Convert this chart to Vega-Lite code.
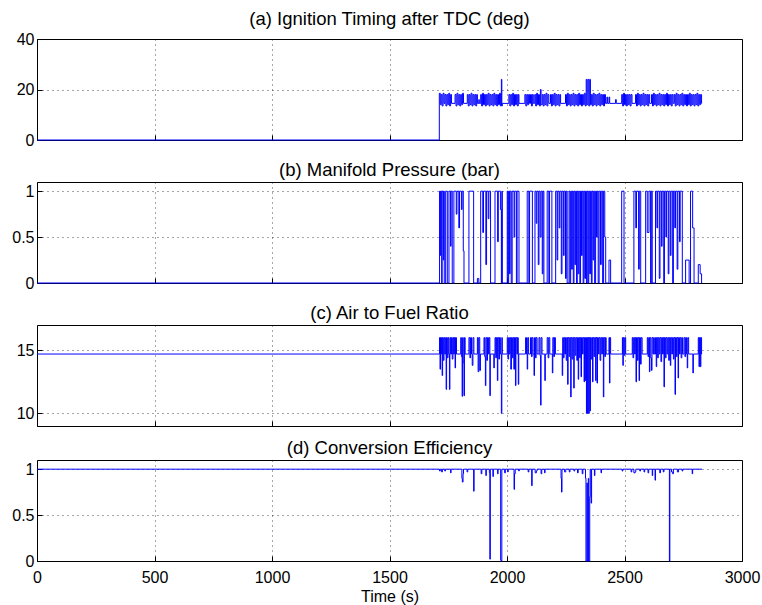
{
  "$schema": "https://vega.github.io/schema/vega-lite/v6.json",
  "padding": {"left": 11, "top": 9, "right": 8, "bottom": 4},
  "spacing": 11,
  "config": {
    "font": "Arial, Liberation Sans, Helvetica, sans-serif",
    "view": {"stroke": "#000", "strokeWidth": 1},
    "title": {"fontSize": 18.5, "fontWeight": "normal", "color": "#000", "font": "Arial, Liberation Sans, Helvetica, sans-serif", "offset": 3},
    "axis": {"domain": false, "grid": true, "gridDash": [1, 4], "gridColor": "#000", "gridOpacity": 0.7, "labelFontSize": 16, "labelColor": "#000", "labelFont": "Arial, Liberation Sans, Helvetica, sans-serif", "tickColor": "#000", "tickSize": -5, "titleFontSize": 16, "titleFontWeight": "normal", "titleColor": "#000", "titleFont": "Arial, Liberation Sans, Helvetica, sans-serif", "labelFlush": false, "labelOverlap": false},
    "axisX": {"labelPadding": 13},
    "axisY": {"labelPadding": 8, "minExtent": 17, "maxExtent": 17}
  },
  "datasets": {
    "ign": [
      {"t":0,"v":0},{"t":1712,"v":18.5},{"t":1716,"v":14},{"t":1720,"v":18},{"t":1724,"v":13.5},{"t":1728,"v":18.5},{"t":1732,"v":14.5},{"t":1736,"v":18},{"t":1740,"v":13.5},{"t":1744,"v":18},{"t":1748,"v":14},{"t":1752,"v":18.5},{"t":1756,"v":13.5},{"t":1760,"v":18},{"t":1764,"v":14.5},
      {"t":1779,"v":18},{"t":1783,"v":13.5},{"t":1787,"v":18.5},{"t":1791,"v":14},{"t":1795,"v":18},{"t":1799,"v":13.5},{"t":1803,"v":18},{"t":1807,"v":14},{"t":1811,"v":18.5},{"t":1815,"v":14.5},
      {"t":1831,"v":18},{"t":1835,"v":13.5},{"t":1839,"v":18},{"t":1843,"v":14},{"t":1847,"v":18.5},{"t":1851,"v":13.5},{"t":1855,"v":18},{"t":1859,"v":14},{"t":1863,"v":18},{"t":1867,"v":13.5},{"t":1871,"v":18},{"t":1874,"v":14.5},{"t":1880,"v":16},{"t":1882,"v":14.5},
      {"t":1888,"v":18},{"t":1892,"v":13.5},{"t":1896,"v":18.5},{"t":1900,"v":14},{"t":1904,"v":18},{"t":1908,"v":13.5},{"t":1912,"v":18},{"t":1916,"v":14},{"t":1920,"v":18.5},{"t":1924,"v":13.5},{"t":1928,"v":18},{"t":1932,"v":14},{"t":1936,"v":18},{"t":1940,"v":13.5},{"t":1944,"v":18.5},{"t":1948,"v":14},{"t":1952,"v":18},{"t":1956,"v":13.5},{"t":1960,"v":18},{"t":1964,"v":14},{"t":1968,"v":18.5},{"t":1972,"v":13.5},{"t":1976,"v":24},{"t":1978,"v":13.5},{"t":1980,"v":14.5},
      {"t":2008,"v":18},{"t":2012,"v":13.5},{"t":2016,"v":18},{"t":2020,"v":14},{"t":2024,"v":18.5},{"t":2028,"v":13.5},{"t":2032,"v":18},{"t":2036,"v":14},{"t":2040,"v":18},{"t":2044,"v":13.5},{"t":2048,"v":18},{"t":2051,"v":14.5},
      {"t":2076,"v":18},{"t":2080,"v":13.5},{"t":2084,"v":18},{"t":2088,"v":14},{"t":2092,"v":18},{"t":2096,"v":14.5},{"t":2100,"v":18},{"t":2104,"v":13.5},{"t":2108,"v":18},{"t":2112,"v":14.5},
      {"t":2118,"v":18},{"t":2122,"v":13.5},{"t":2126,"v":18.5},{"t":2130,"v":14},{"t":2134,"v":18},{"t":2138,"v":13.5},{"t":2142,"v":20},{"t":2145,"v":14},{"t":2150,"v":18},{"t":2154,"v":13.5},{"t":2158,"v":18},{"t":2162,"v":14},{"t":2166,"v":18.5},{"t":2170,"v":13.5},{"t":2174,"v":18},{"t":2178,"v":14.5},
      {"t":2185,"v":18},{"t":2189,"v":13.5},{"t":2193,"v":18},{"t":2197,"v":14},{"t":2201,"v":18.5},{"t":2205,"v":13.5},{"t":2209,"v":18},{"t":2213,"v":14},{"t":2217,"v":18},{"t":2221,"v":13.5},{"t":2225,"v":18},{"t":2228,"v":14.5},
      {"t":2249,"v":18},{"t":2253,"v":13.5},{"t":2257,"v":18.5},{"t":2261,"v":14},{"t":2265,"v":18},{"t":2269,"v":13.5},{"t":2273,"v":18},{"t":2277,"v":14},{"t":2281,"v":18.5},{"t":2285,"v":13.5},{"t":2289,"v":18},{"t":2293,"v":14},{"t":2297,"v":18},{"t":2301,"v":13.5},{"t":2305,"v":18.5},{"t":2309,"v":14},{"t":2313,"v":18},{"t":2317,"v":13.5},{"t":2321,"v":18},{"t":2325,"v":14},{"t":2329,"v":18.5},{"t":2333,"v":13.5},{"t":2337,"v":24},{"t":2340,"v":14},{"t":2344,"v":24},{"t":2348,"v":13.5},{"t":2352,"v":24},{"t":2355,"v":14},{"t":2359,"v":18},{"t":2363,"v":13.5},{"t":2367,"v":18.5},{"t":2371,"v":14},{"t":2375,"v":18},{"t":2379,"v":13.5},{"t":2383,"v":18},{"t":2387,"v":14},{"t":2391,"v":18.5},{"t":2395,"v":13.5},{"t":2399,"v":18},{"t":2403,"v":14},{"t":2407,"v":18},{"t":2411,"v":13.5},{"t":2415,"v":18},{"t":2419,"v":14.5},
      {"t":2425,"v":17},{"t":2428,"v":14.5},{"t":2434,"v":17},{"t":2437,"v":14.5},{"t":2462,"v":16},{"t":2465,"v":14.5},
      {"t":2488,"v":18},{"t":2492,"v":13.5},{"t":2496,"v":18.5},{"t":2500,"v":14},{"t":2504,"v":18},{"t":2508,"v":13.5},{"t":2512,"v":18},{"t":2516,"v":14},{"t":2520,"v":18},{"t":2524,"v":13.5},{"t":2528,"v":18},{"t":2532,"v":14.5},
      {"t":2547,"v":18},{"t":2551,"v":13.5},{"t":2555,"v":18.5},{"t":2559,"v":14},{"t":2563,"v":18},{"t":2567,"v":13.5},{"t":2571,"v":18},{"t":2575,"v":14},{"t":2579,"v":18.5},{"t":2583,"v":13.5},{"t":2587,"v":18},{"t":2591,"v":14},{"t":2595,"v":18},{"t":2599,"v":13.5},{"t":2603,"v":18},{"t":2607,"v":14.5},
      {"t":2615,"v":18},{"t":2619,"v":13.5},{"t":2623,"v":18.5},{"t":2627,"v":14},{"t":2631,"v":18},{"t":2635,"v":13.5},{"t":2639,"v":18},{"t":2643,"v":14},{"t":2647,"v":18.5},{"t":2651,"v":13.5},{"t":2655,"v":18},{"t":2659,"v":14},{"t":2663,"v":18},{"t":2667,"v":13.5},{"t":2671,"v":18},{"t":2675,"v":14},{"t":2679,"v":18.5},{"t":2683,"v":13.5},{"t":2687,"v":18},{"t":2691,"v":14},{"t":2695,"v":18},{"t":2699,"v":13.5},{"t":2703,"v":18},{"t":2707,"v":14.5},
      {"t":2712,"v":18},{"t":2716,"v":13.5},{"t":2720,"v":18.5},{"t":2724,"v":14},{"t":2728,"v":18},{"t":2732,"v":13.5},{"t":2736,"v":18},{"t":2740,"v":14},{"t":2744,"v":18.5},{"t":2748,"v":13.5},{"t":2752,"v":18},{"t":2756,"v":14},{"t":2760,"v":18},{"t":2764,"v":13.5},{"t":2768,"v":18},{"t":2772,"v":14},{"t":2776,"v":18.5},{"t":2780,"v":13.5},{"t":2784,"v":18},{"t":2788,"v":14},{"t":2792,"v":18},{"t":2796,"v":13.5},{"t":2800,"v":18},{"t":2804,"v":14},{"t":2808,"v":18.5},{"t":2812,"v":13.5},{"t":2816,"v":18},{"t":2820,"v":14},{"t":2824,"v":18},{"t":2828,"v":14.5},{"t":2830,"v":14.5}
    ],
    "map": [
      {"t":0,"v":0},{"t":1713,"v":1},{"t":1716,"v":0.3},{"t":1718,"v":1},{"t":1722,"v":0},{"t":1724,"v":1},{"t":1729,"v":0.25},{"t":1731,"v":1},{"t":1733,"v":0},{"t":1739,"v":1},{"t":1746,"v":0},{"t":1753,"v":1},{"t":1760,"v":0.4},{"t":1762,"v":1},{"t":1767,"v":0},
      {"t":1774,"v":1},{"t":1784,"v":0.75},{"t":1787,"v":1},{"t":1795,"v":0.6},{"t":1798,"v":1},{"t":1806,"v":0.8},{"t":1809,"v":1},{"t":1814,"v":0.35},{"t":1817,"v":0},
      {"t":1838,"v":1},{"t":1858,"v":0},{"t":1874,"v":0.05},{"t":1880,"v":0},
      {"t":1888,"v":1},{"t":1897,"v":0.55},{"t":1900,"v":1},{"t":1910,"v":0.2},{"t":1913,"v":1},{"t":1920,"v":0.7},{"t":1923,"v":1},{"t":1930,"v":0},
      {"t":1949,"v":1},{"t":1960,"v":0.45},{"t":1963,"v":1},{"t":1972,"v":0.8},{"t":1976,"v":0},{"t":1978,"v":1},{"t":1980,"v":0},
      {"t":2001,"v":1},{"t":2004,"v":0},{"t":2007,"v":1},{"t":2011,"v":0.1},{"t":2013,"v":1},{"t":2018,"v":0},{"t":2022,"v":1},{"t":2030,"v":0.5},{"t":2033,"v":1},{"t":2040,"v":0},{"t":2043,"v":1},{"t":2051,"v":0},
      {"t":2086,"v":1},{"t":2093,"v":0},{"t":2096,"v":1},{"t":2108,"v":0},
      {"t":2119,"v":1},{"t":2124,"v":0.65},{"t":2127,"v":1},{"t":2133,"v":0.2},{"t":2136,"v":1},{"t":2141,"v":0.5},{"t":2145,"v":1},{"t":2150,"v":0.1},{"t":2153,"v":1},{"t":2157,"v":0},
      {"t":2171,"v":1},{"t":2178,"v":0},{"t":2181,"v":1},{"t":2191,"v":0},
      {"t":2207,"v":1},{"t":2213,"v":0.25},{"t":2216,"v":1},{"t":2222,"v":0.6},{"t":2225,"v":1},{"t":2231,"v":0.1},{"t":2234,"v":1},{"t":2240,"v":0.3},{"t":2243,"v":1},{"t":2249,"v":0.05},{"t":2252,"v":1},{"t":2256,"v":0},
      {"t":2264,"v":1},{"t":2268,"v":0},{"t":2271,"v":1},{"t":2275,"v":0.15},{"t":2278,"v":1},{"t":2282,"v":0},{"t":2285,"v":1},{"t":2289,"v":0.2},{"t":2292,"v":1},{"t":2296,"v":0},{"t":2299,"v":1},{"t":2303,"v":0.1},{"t":2306,"v":1},{"t":2310,"v":0},{"t":2313,"v":1},{"t":2317,"v":0.3},{"t":2320,"v":1},{"t":2324,"v":0},{"t":2327,"v":1},{"t":2331,"v":0.05},{"t":2334,"v":1},{"t":2338,"v":0},{"t":2341,"v":1},{"t":2345,"v":0},{"t":2348,"v":1},{"t":2352,"v":0.1},{"t":2355,"v":1},{"t":2359,"v":0},{"t":2362,"v":1},{"t":2366,"v":0.25},{"t":2369,"v":1},{"t":2373,"v":0},{"t":2377,"v":1},{"t":2381,"v":0.5},{"t":2384,"v":1},{"t":2388,"v":0},{"t":2392,"v":1},{"t":2398,"v":0.2},{"t":2401,"v":1},{"t":2407,"v":0},{"t":2411,"v":1},{"t":2416,"v":0.5},{"t":2420,"v":0},
      {"t":2434,"v":0.25},{"t":2441,"v":0},{"t":2488,"v":1},{"t":2498,"v":0},
      {"t":2540,"v":1},{"t":2548,"v":0.6},{"t":2551,"v":1},{"t":2560,"v":0.15},{"t":2563,"v":1},{"t":2569,"v":0},
      {"t":2590,"v":1},{"t":2597,"v":0.55},{"t":2604,"v":1},{"t":2611,"v":0},{"t":2614,"v":1},{"t":2618,"v":0},
      {"t":2632,"v":1},{"t":2638,"v":0.6},{"t":2641,"v":1},{"t":2648,"v":0.05},{"t":2651,"v":1},{"t":2657,"v":0.4},{"t":2660,"v":1},{"t":2667,"v":0},{"t":2670,"v":1},{"t":2676,"v":0.5},{"t":2679,"v":1},{"t":2686,"v":0.1},{"t":2689,"v":1},{"t":2695,"v":0.3},{"t":2698,"v":1},{"t":2705,"v":0},{"t":2708,"v":1},{"t":2714,"v":0.6},{"t":2717,"v":1},{"t":2724,"v":0.15},{"t":2727,"v":1},{"t":2734,"v":0.45},{"t":2737,"v":1},{"t":2746,"v":0},
      {"t":2760,"v":0.25},{"t":2775,"v":0},{"t":2781,"v":1},{"t":2790,"v":0.6},{"t":2796,"v":0},{"t":2814,"v":0.2},{"t":2822,"v":0.1},{"t":2828,"v":0},{"t":2830,"v":0}
    ],
    "afr": [
      {"t":0,"v":14.7},{"t":1713,"v":16},{"t":1715,"v":13.5},{"t":1717,"v":16},{"t":1720,"v":14.7},{"t":1722,"v":16},{"t":1724,"v":13},{"t":1726,"v":16},{"t":1729,"v":14.2},{"t":1732,"v":16},{"t":1735,"v":14.7},{"t":1739,"v":16},{"t":1741,"v":11.9},{"t":1743,"v":16},{"t":1746,"v":14.4},{"t":1749,"v":16},{"t":1752,"v":14.7},{"t":1755,"v":11.9},{"t":1757,"v":16},{"t":1760,"v":14.7},
      {"t":1764,"v":16},{"t":1767,"v":14.3},{"t":1770,"v":16},{"t":1773,"v":14.7},{"t":1776,"v":16},{"t":1779,"v":13.6},{"t":1781,"v":16},{"t":1785,"v":14.7},
      {"t":1803,"v":16},{"t":1806,"v":14.5},{"t":1809,"v":11.35},{"t":1811,"v":16},{"t":1814,"v":14},{"t":1817,"v":11.4},{"t":1819,"v":16},{"t":1822,"v":14.7},
      {"t":1838,"v":16},{"t":1842,"v":14.4},{"t":1845,"v":16},{"t":1849,"v":14.7},{"t":1852,"v":13.8},{"t":1855,"v":16},{"t":1859,"v":14.7},
      {"t":1874,"v":16},{"t":1877,"v":13.3},{"t":1880,"v":16},{"t":1884,"v":13.4},{"t":1887,"v":14.7},
      {"t":1902,"v":16},{"t":1905,"v":14.5},{"t":1908,"v":12.2},{"t":1910,"v":16},{"t":1914,"v":14.2},{"t":1917,"v":16},{"t":1921,"v":14.7},{"t":1924,"v":16},{"t":1927,"v":11.4},{"t":1929,"v":14.7},
      {"t":1944,"v":13.6},{"t":1946,"v":14.7},{"t":1949,"v":16},{"t":1952,"v":14.4},{"t":1955,"v":16},{"t":1959,"v":12.6},{"t":1961,"v":16},{"t":1965,"v":14.3},{"t":1968,"v":16},{"t":1972,"v":14.7},{"t":1976,"v":10},{"t":1978,"v":16},{"t":1980,"v":14.7},
      {"t":2001,"v":16},{"t":2004,"v":14.3},{"t":2007,"v":16},{"t":2010,"v":14.7},{"t":2013,"v":16},{"t":2016,"v":13.5},{"t":2019,"v":16},{"t":2023,"v":14.4},{"t":2026,"v":16},{"t":2029,"v":13.5},{"t":2032,"v":16},{"t":2036,"v":12.2},{"t":2038,"v":16},{"t":2042,"v":14.7},{"t":2045,"v":16},{"t":2048,"v":12.3},{"t":2050,"v":14.7},
      {"t":2079,"v":16},{"t":2083,"v":14.7},{"t":2086,"v":13.5},{"t":2088,"v":16},{"t":2092,"v":14.7},
      {"t":2100,"v":16},{"t":2104,"v":14.5},{"t":2107,"v":16},{"t":2111,"v":14.7},{"t":2115,"v":13},{"t":2117,"v":16},{"t":2121,"v":14.4},{"t":2124,"v":16},{"t":2128,"v":14.7},
      {"t":2136,"v":16},{"t":2140,"v":14.6},{"t":2143,"v":10.65},{"t":2145,"v":16},{"t":2149,"v":14.7},{"t":2161,"v":12.6},{"t":2163,"v":14.7},
      {"t":2171,"v":16},{"t":2175,"v":14.4},{"t":2178,"v":16},{"t":2182,"v":14.7},
      {"t":2193,"v":13.2},{"t":2195,"v":16},{"t":2199,"v":14.5},{"t":2202,"v":16},{"t":2206,"v":14.7},
      {"t":2235,"v":13},{"t":2237,"v":16},{"t":2240,"v":14.4},{"t":2243,"v":16},{"t":2246,"v":14.7},{"t":2249,"v":16},{"t":2252,"v":14.2},{"t":2255,"v":16},{"t":2258,"v":12.3},{"t":2260,"v":16},{"t":2264,"v":14.5},{"t":2267,"v":16},{"t":2271,"v":11.3},{"t":2273,"v":16},{"t":2277,"v":14.3},{"t":2280,"v":16},{"t":2284,"v":12},{"t":2286,"v":16},{"t":2290,"v":14.6},{"t":2293,"v":16},{"t":2297,"v":14.2},{"t":2300,"v":16},{"t":2303,"v":12.7},{"t":2305,"v":16},{"t":2309,"v":14.4},{"t":2312,"v":16},{"t":2315,"v":12.9},{"t":2317,"v":16},{"t":2321,"v":14.7},{"t":2324,"v":16},{"t":2328,"v":12.5},{"t":2330,"v":16},{"t":2333,"v":12.6},{"t":2335,"v":16},{"t":2338,"v":10},{"t":2340,"v":16},{"t":2343,"v":10},{"t":2345,"v":16},{"t":2348,"v":10},{"t":2350,"v":16},{"t":2353,"v":10.2},{"t":2355,"v":16},{"t":2358,"v":14.3},{"t":2361,"v":16},{"t":2364,"v":12.5},{"t":2366,"v":16},{"t":2370,"v":14.5},{"t":2373,"v":16},{"t":2377,"v":12.6},{"t":2379,"v":16},{"t":2383,"v":12.4},{"t":2385,"v":16},{"t":2389,"v":14.7},{"t":2392,"v":16},{"t":2396,"v":14.2},{"t":2399,"v":16},{"t":2403,"v":14.7},{"t":2406,"v":16},{"t":2410,"v":11.3},{"t":2412,"v":16},{"t":2416,"v":14.5},{"t":2419,"v":16},{"t":2422,"v":14.7},
      {"t":2434,"v":16},{"t":2436,"v":12.4},{"t":2438,"v":16},{"t":2441,"v":14.7},
      {"t":2491,"v":16},{"t":2493,"v":13.8},{"t":2495,"v":16},{"t":2499,"v":14.6},{"t":2502,"v":16},{"t":2505,"v":14.7},
      {"t":2533,"v":16},{"t":2536,"v":14.4},{"t":2539,"v":16},{"t":2543,"v":14.7},{"t":2546,"v":16},{"t":2549,"v":12.5},{"t":2551,"v":16},{"t":2555,"v":14.2},{"t":2558,"v":16},{"t":2562,"v":12.6},{"t":2564,"v":16},{"t":2568,"v":13.9},{"t":2571,"v":16},{"t":2575,"v":14.7},
      {"t":2597,"v":16},{"t":2600,"v":14.5},{"t":2603,"v":16},{"t":2606,"v":13.3},{"t":2608,"v":16},{"t":2612,"v":14.4},{"t":2615,"v":13.4},{"t":2617,"v":16},{"t":2621,"v":14.7},{"t":2624,"v":16},{"t":2627,"v":14.7},
      {"t":2632,"v":16},{"t":2635,"v":13.7},{"t":2637,"v":16},{"t":2641,"v":14.4},{"t":2644,"v":16},{"t":2648,"v":14.7},{"t":2651,"v":16},{"t":2655,"v":14.1},{"t":2658,"v":16},{"t":2662,"v":14.7},{"t":2665,"v":16},{"t":2668,"v":12.1},{"t":2670,"v":16},{"t":2674,"v":14.4},{"t":2677,"v":16},{"t":2681,"v":14.7},{"t":2684,"v":16},{"t":2688,"v":14.2},{"t":2691,"v":16},{"t":2695,"v":13.8},{"t":2697,"v":16},{"t":2701,"v":14.7},{"t":2704,"v":16},{"t":2708,"v":14.3},{"t":2711,"v":16},{"t":2715,"v":11.5},{"t":2717,"v":16},{"t":2721,"v":14.5},{"t":2724,"v":16},{"t":2728,"v":12.8},{"t":2730,"v":16},{"t":2734,"v":14.7},{"t":2737,"v":16},{"t":2741,"v":14.4},{"t":2744,"v":16},{"t":2747,"v":14.7},
      {"t":2753,"v":16},{"t":2757,"v":14.5},{"t":2760,"v":16},{"t":2764,"v":14.7},{"t":2767,"v":13.6},{"t":2769,"v":16},{"t":2773,"v":14.7},{"t":2791,"v":13.2},{"t":2793,"v":14.7},
      {"t":2814,"v":16},{"t":2817,"v":13.7},{"t":2819,"v":16},{"t":2823,"v":13.7},{"t":2825,"v":16},{"t":2828,"v":14.7},{"t":2830,"v":14.7}
    ],
    "eff": [
      {"t":0,"v":1},{"t":1713,"v":0.98},{"t":1716,"v":1},{"t":1722,"v":0.97},{"t":1725,"v":1},{"t":1735,"v":0.98},{"t":1738,"v":1},{"t":1760,"v":0.96},{"t":1762,"v":1},{"t":1808,"v":0.9},{"t":1810,"v":0.86},{"t":1813,"v":0.95},{"t":1815,"v":1},{"t":1830,"v":0.97},{"t":1833,"v":1},{"t":1858,"v":0.76},{"t":1860,"v":1},{"t":1890,"v":0.95},{"t":1893,"v":1},{"t":1910,"v":0.93},{"t":1912,"v":1},{"t":1925,"v":0.96},{"t":1927,"v":0.02},{"t":1929,"v":1},{"t":1940,"v":0.92},{"t":1942,"v":1},{"t":1960,"v":0.95},{"t":1962,"v":1},{"t":1973,"v":0.01},{"t":1975,"v":0},{"t":1978,"v":1},{"t":1990,"v":0.96},{"t":1993,"v":1},{"t":2003,"v":0.97},{"t":2005,"v":1},{"t":2030,"v":0.78},{"t":2032,"v":0.95},{"t":2035,"v":1},{"t":2050,"v":0.98},{"t":2052,"v":1},{"t":2090,"v":0.97},{"t":2093,"v":1},{"t":2105,"v":0.82},{"t":2107,"v":1},{"t":2120,"v":0.96},{"t":2125,"v":0.98},{"t":2128,"v":1},{"t":2145,"v":0.95},{"t":2148,"v":1},{"t":2160,"v":0.96},{"t":2162,"v":1},{"t":2230,"v":0.9},{"t":2232,"v":0.75},{"t":2234,"v":1},{"t":2245,"v":0.97},{"t":2250,"v":1},{"t":2265,"v":0.97},{"t":2268,"v":1},{"t":2285,"v":0.98},{"t":2288,"v":1},{"t":2300,"v":0.96},{"t":2303,"v":1},{"t":2320,"v":0.95},{"t":2323,"v":1},{"t":2334,"v":0.9},{"t":2336,"v":0},{"t":2340,"v":0.85},{"t":2342,"v":0},{"t":2346,"v":0.9},{"t":2348,"v":0},{"t":2352,"v":0.7},{"t":2354,"v":1},{"t":2358,"v":0.63},{"t":2360,"v":1},{"t":2372,"v":0.93},{"t":2374,"v":1},{"t":2400,"v":0.96},{"t":2402,"v":1},{"t":2490,"v":0.98},{"t":2493,"v":1},{"t":2528,"v":0.97},{"t":2531,"v":1},{"t":2540,"v":0.96},{"t":2545,"v":0.97},{"t":2548,"v":1},{"t":2565,"v":0.98},{"t":2568,"v":1},{"t":2583,"v":0.97},{"t":2586,"v":1},{"t":2600,"v":0.96},{"t":2603,"v":1},{"t":2618,"v":0.93},{"t":2620,"v":1},{"t":2630,"v":0.88},{"t":2632,"v":1},{"t":2650,"v":0.96},{"t":2653,"v":1},{"t":2665,"v":0.97},{"t":2668,"v":1},{"t":2691,"v":0},{"t":2693,"v":1},{"t":2700,"v":0.97},{"t":2705,"v":0.95},{"t":2708,"v":1},{"t":2725,"v":0.97},{"t":2730,"v":1},{"t":2745,"v":0.98},{"t":2748,"v":1},{"t":2788,"v":0.95},{"t":2790,"v":1},{"t":2830,"v":1}
    ]
  },
  "vconcat": [
    {
      "title": "(a) Ignition Timing after TDC (deg)",
      "width": 705, "height": 101,
      "data": {"name": "ign"},
      "mark": {"type": "line", "interpolate": "step-after", "color": "#0000ff", "strokeWidth": 1},
      "encoding": {
        "x": {"field": "t", "type": "quantitative", "scale": {"domain": [0, 3000], "nice": false}, "axis": {"values": [0, 500, 1000, 1500, 2000, 2500, 3000], "labels": false, "title": null}},
        "y": {"field": "v", "type": "quantitative", "scale": {"domain": [0, 40], "nice": false}, "axis": {"values": [0, 20, 40], "title": null, "format": "d"}}
      }
    },
    {
      "title": "(b) Manifold Pressure (bar)",
      "width": 705, "height": 101,
      "data": {"name": "map"},
      "mark": {"type": "line", "interpolate": "step-after", "color": "#0000ff", "strokeWidth": 1},
      "encoding": {
        "x": {"field": "t", "type": "quantitative", "scale": {"domain": [0, 3000], "nice": false}, "axis": {"values": [0, 500, 1000, 1500, 2000, 2500, 3000], "labels": false, "title": null}},
        "y": {"field": "v", "type": "quantitative", "scale": {"domain": [0, 1.1], "nice": false}, "axis": {"values": [0, 0.5, 1], "title": null, "format": "~g"}}
      }
    },
    {
      "title": "(c) Air to Fuel Ratio",
      "width": 705, "height": 101,
      "data": {"name": "afr"},
      "mark": {"type": "line", "interpolate": "step-after", "color": "#0000ff", "strokeWidth": 1},
      "encoding": {
        "x": {"field": "t", "type": "quantitative", "scale": {"domain": [0, 3000], "nice": false}, "axis": {"values": [0, 500, 1000, 1500, 2000, 2500, 3000], "labels": false, "title": null}},
        "y": {"field": "v", "type": "quantitative", "scale": {"domain": [9, 17], "nice": false, "zero": false}, "axis": {"values": [10, 15], "title": null, "format": "d"}}
      }
    },
    {
      "title": "(d) Conversion Efficiency",
      "width": 705, "height": 101,
      "data": {"name": "eff"},
      "mark": {"type": "line", "interpolate": "step-after", "color": "#0000ff", "strokeWidth": 1},
      "encoding": {
        "x": {"field": "t", "type": "quantitative", "scale": {"domain": [0, 3000], "nice": false}, "axis": {"values": [0, 500, 1000, 1500, 2000, 2500, 3000], "title": "Time (s)", "format": "d", "titlePadding": 3}},
        "y": {"field": "v", "type": "quantitative", "scale": {"domain": [0, 1.1], "nice": false}, "axis": {"values": [0, 0.5, 1], "title": null, "format": "~g"}}
      }
    }
  ]
}
